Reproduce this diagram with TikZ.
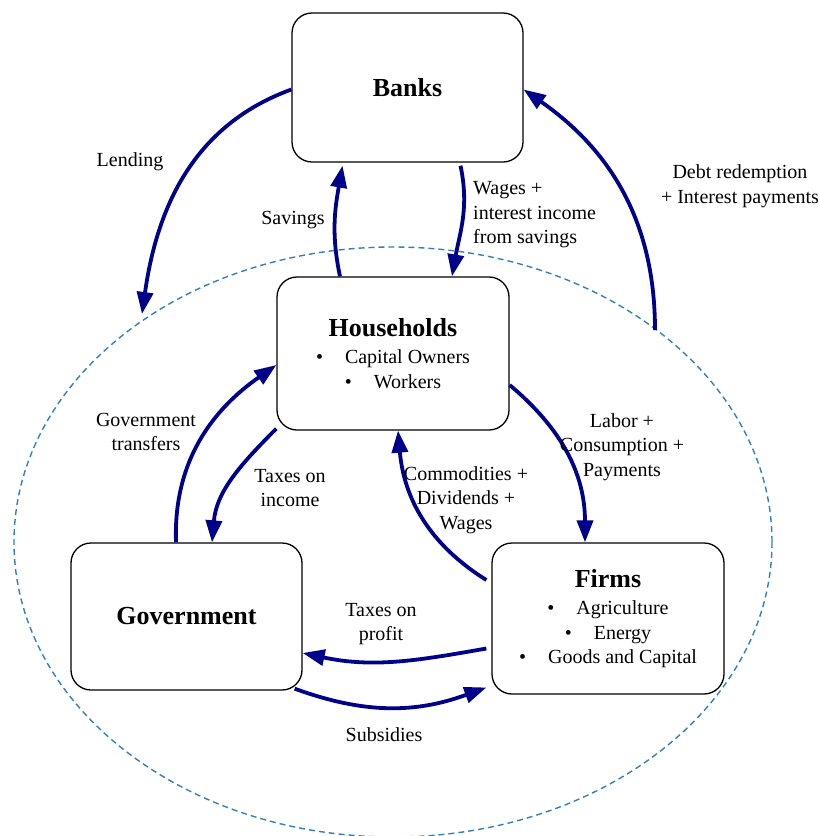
\documentclass[tikz,border=0pt]{standalone}
\usepackage{fontspec}
\setmainfont{Liberation Serif}
\usetikzlibrary{arrows.meta,calc}
\definecolor{flow}{RGB}{0,0,139}
\definecolor{ring}{RGB}{50,128,185}
\newcommand{\ttlfont}{\fontsize{26}{30}\selectfont\bfseries}
\newcommand{\lblfont}{\fontsize{20}{24.5}\selectfont}
\begin{document}
\begin{tikzpicture}[x=1pt,y=1pt,
  box/.style={draw=black, line width=1.3pt, rounded corners=20pt, fill=white,
    align=center, inner sep=0pt, font=\lblfont},
  flowarrow/.style={draw=flow, line width=3.8pt, -{Triangle[length=22pt,width=16pt]}},
  lbl/.style={align=center, font=\lblfont, inner sep=0pt},
]
\useasboundingbox (0,0) rectangle (819,-836);
\begin{scope}
  \clip (0,0) rectangle (819,-836);
  \draw[ring, line width=1.4pt, dash pattern=on 6pt off 4pt] (393,-542) ellipse [x radius=379, y radius=295];
\end{scope}

% boxes
\node[box, minimum width=231pt, minimum height=149pt] (banks) at (407.5,-87.5) {{\ttlfont Banks}};
\node[box, minimum width=232pt, minimum height=153pt] (hh) at (393,-353.5)
  {{\ttlfont Households}\\[3pt] \textbullet\hspace{22pt}Capital Owners\\ \textbullet\hspace{22pt}Workers};
\node[box, minimum width=231pt, minimum height=147pt] (gov) at (186.5,-616.5) {{\ttlfont Government}};
\node[box, minimum width=232pt, minimum height=151pt] (firms) at (608,-618.5)
  {{\ttlfont Firms}\\[3pt] \textbullet\hspace{22pt}Agriculture\\ \textbullet\hspace{22pt}Energy\\ \textbullet\hspace{22pt}Goods and Capital};

% free ends
\coordinate (lendEnd) at (142,-314);
\coordinate (debtStart) at (655,-330);

% arrows
\draw[flowarrow] ([yshift=-2pt]banks.west) to[out=200, in=82] (lendEnd);
\draw[flowarrow] ([xshift=-53pt]hh.north) to[out=102, in=-100] ([xshift=-65pt,yshift=-3pt]banks.south);
\draw[flowarrow] ([xshift=53pt,yshift=-3pt]banks.south) to[out=-78, in=80] ([xshift=59pt]hh.north);
\draw[flowarrow] (debtStart) to[out=90, in=-35] ([yshift=-2pt]banks.east);
\draw[flowarrow] ([xshift=-10.5pt]gov.north) to[out=92, in=215] ([yshift=-11.5pt]hh.west);
\draw[flowarrow] ([yshift=2pt]hh.south west) to[out=225, in=85] ([xshift=25.5pt]gov.north);
\draw[flowarrow] ([yshift=-31.5pt]hh.east) to[out=-40, in=90] ([xshift=-23pt]firms.north);
\draw[flowarrow] ([xshift=-5pt,yshift=38.5pt]firms.west) to[out=148, in=-85] ([xshift=5pt]hh.south);
\draw[flowarrow] ([xshift=-5pt,yshift=-30pt]firms.west) to[out=190, in=-12] ([yshift=-36.5pt]gov.east);
\draw[flowarrow] ([xshift=-8pt,yshift=2pt]gov.south east) to[out=-20, in=200] ([xshift=-5pt,yshift=-69pt]firms.west);

% labels
\node[lbl] (lLend) at (130,-162) {Lending};
\node[lbl] (lSav) at (293,-220) {Savings};
\node[lbl, anchor=west, align=left] (lWag) at (473,-215) {Wages +\\interest income\\from savings};
\node[lbl] (lDebt) at (740,-186) {Debt redemption\\+ Interest payments};
\node[lbl] (lTrans) at (146,-432) {Government\\transfers};
\node[lbl] (lTaxI) at (290,-488) {Taxes on\\income};
\node[lbl] (lLab) at (622,-447) {Labor +\\Consumption +\\Payments};
\node[lbl] (lCom) at (466,-500) {Commodities +\\Dividends +\\Wages};
\node[lbl] (lTaxP) at (381,-624) {Taxes on\\profit};
\node[lbl] (lSub) at (384,-735) {Subsidies};
\end{tikzpicture}
\end{document}
